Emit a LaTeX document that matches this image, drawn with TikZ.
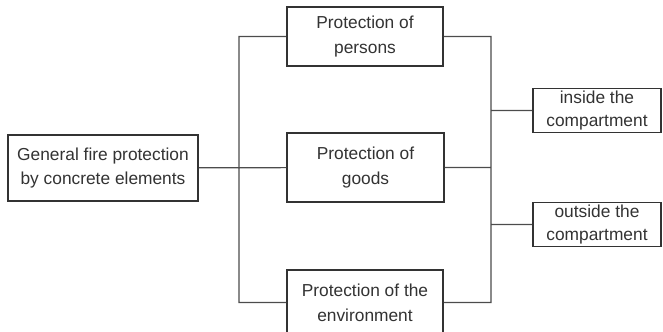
\documentclass[tikz,border=0pt]{standalone}
\usepackage{fontspec}
\setmainfont{Liberation Sans}
\usetikzlibrary{positioning}

\begin{document}
\begin{tikzpicture}[x=0.03cm, y=-0.03cm]
			\tikzset {box/.style={draw=black!80, line width=1.3pt, fill=white, align=center, inner sep=0pt, text=black!80, font=\fontsize{14.8}{21}\selectfont}, link/.style={draw=black!70, line width=1pt} }
			\useasboundingbox (0,0) rectangle (663,331);

			\node[box, minimum width=5.7cm, minimum height=1.98cm] (gen) at (103,168) {General fire protection\\by concrete elements};
			\node[box, minimum width=4.68cm, minimum height=1.77cm] (p1) at (365,36.5) {Protection of\\persons};
			\node[box, minimum width=4.7cm, minimum height=2.07cm] (p2) at (365.5,167.5) {Protection of\\goods};
			\node[box, minimum width=4.68cm, minimum height=1.95cm] (p3) at (365,302.5) {Protection of the\\environment};
			\node[box, minimum width=3.84cm, minimum height=1.32cm, font=\fontsize{14.8}{19}\selectfont] (c1) at (597,110.5) {inside the\\compartment};
			\node[box, minimum width=3.84cm, minimum height=1.32cm, font=\fontsize{14.8}{19}\selectfont] (c2) at (597,224.5) {outside the\\compartment};

			\coordinate (lbus) at (239,0);
			\coordinate (rbus) at (491,0);

			\draw[link]
				(p1.west) -- (p1.west -| lbus) -- (p3.west -| lbus) -- (p3.west)
				(gen) -- (p2)
				(p1.east) -- (p1.east -| rbus) -- (p3.east -| rbus) -- (p3.east)
				(p2.east) -- (p2.east -| rbus)
				(c1.west) -- (c1.west -| rbus)
				(c2.west) -- (c2.west -| rbus);
		\end{tikzpicture}
\end{document}
